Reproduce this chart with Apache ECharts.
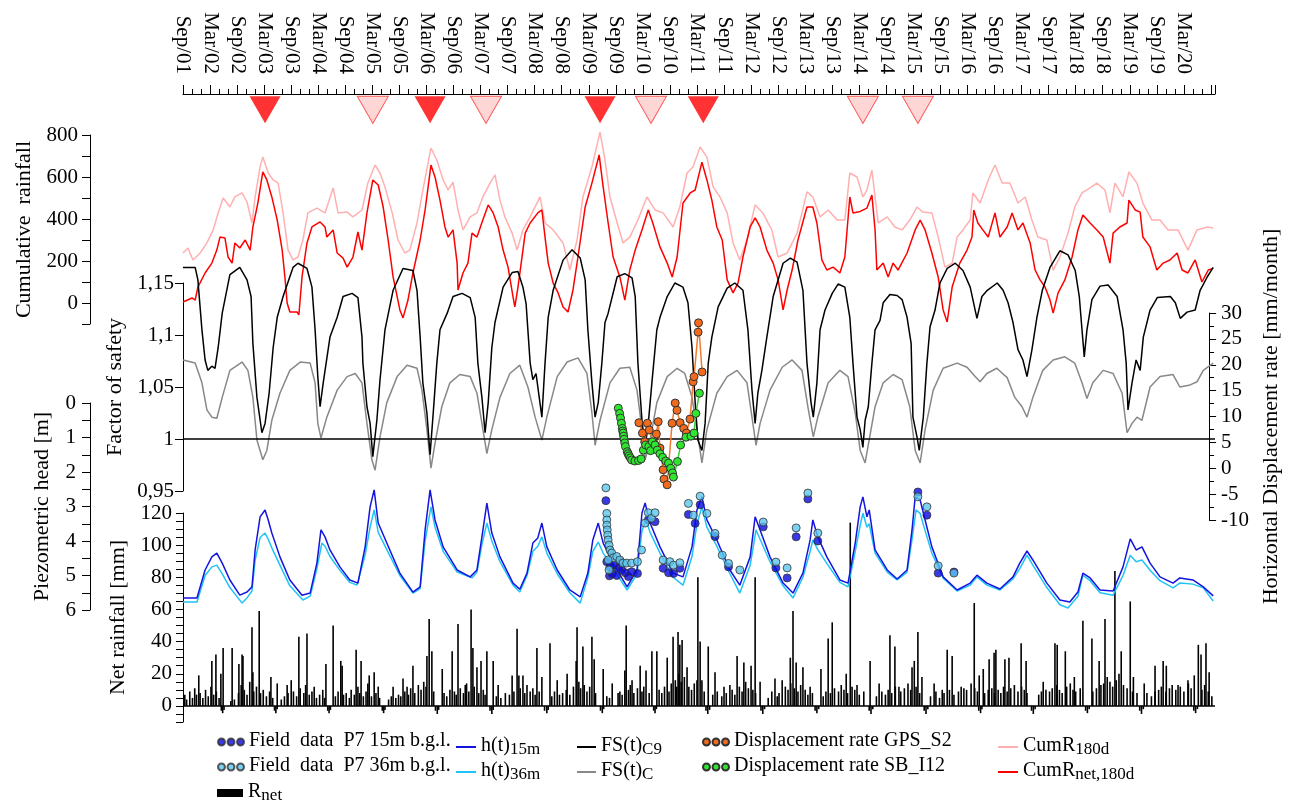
<!DOCTYPE html>
<html>
<head>
<meta charset="utf-8">
<title>Rainfall, piezometric head, factor of safety</title>
<script src="https://cdn.jsdelivr.net/npm/echarts@6.0.0/dist/echarts.min.js"></script>
<style>
  html, body { margin: 0; padding: 0; background: #fff; }
  #chart { width: 1290px; height: 800px; }
</style>
</head>
<body>
<div id="chart"></div>
<script>
// x values are months counted from Sep 2001
const timeLabels = ['Sep/01','Mar/02','Sep/02','Mar/03','Sep/03','Mar/04','Sep/04','Mar/05','Sep/05','Mar/06',
  'Sep/06','Mar/07','Sep/07','Mar/08','Sep/08','Mar/09','Sep/09','Mar/10','Sep/10','Mar/11','Sep/11','Mar/12',
  'Sep/12','Mar/13','Sep/13','Mar/14','Sep/14','Mar/15','Sep/15','Mar/16','Sep/16','Mar/17','Sep/17','Mar/18',
  'Sep/18','Mar/19','Sep/19','Mar/20'];

// landslide events (filled = major, pale = minor)
const eventsMajor = [18.2, 54.8, 92.5, 115.4];
const eventsMinor = [42.1, 67.2, 103.8, 150.8, 163.0];

// cumulative rainfall, 180 days [mm]
const cumR180 = [[0,238],[1.1,262],[2.2,205],[3.8,238],[5.3,286],[6.7,348],[7.8,429],[8.9,500],[10.4,457],[11.5,505],
  [13.1,524],[14.2,481],[15.3,381],[16.0,505],[17.1,648],[17.7,695],[18.9,619],[20.0,586],[21.1,571],[22.2,429],
  [23.3,252],[24.4,205],[25.5,219],[26.6,300],[27.7,429],[29.7,452],[31.5,429],[33.3,548],[34.4,429],[36.4,433],
  [37.7,410],[39.7,443],[41.0,571],[42.6,657],[43.7,619],[44.8,552],[46.4,429],[47.7,300],[49.2,238],[50.3,252],
  [51.9,381],[53.2,538],[55.0,738],[56.3,681],[57.7,586],[58.8,538],[59.9,576],[61.0,443],[62.1,348],[63.7,410],
  [65.2,429],[66.5,505],[68.1,571],[69.2,610],[70.3,490],[71.4,410],[73.0,333],[74.1,252],[75.4,348],[77.0,410],
  [79.2,505],[80.3,381],[82.1,348],[84.3,286],[85.8,157],[87.4,300],[88.7,505],[90.7,648],[92.5,814],[93.6,681],
  [94.7,505],[96.3,381],[97.6,286],[99.1,314],[100.9,395],[102.9,505],[104.7,443],[106.5,429],[108.7,362],[110.2,457],
  [111.8,619],[113.1,648],[114.7,743],[116.2,695],[117.6,552],[119.1,505],[120.7,429],[122.0,286],[123.5,205],[125.1,300],
  [126.9,467],[128.6,429],[130.6,348],[132.0,219],[134.0,238],[136.2,333],[138.4,529],[139.7,505],[141.3,410],[143.1,443],
  [145.1,395],[146.8,395],[147.9,619],[149.5,600],[150.8,505],[151.7,538],[152.8,633],[153.5,505],[154.2,381],[156.2,410],
  [157.9,362],[159.5,348],[161.2,395],[162.8,457],[164.1,433],[166.1,429],[167.5,314],[169.0,171],[170.6,190],[171.7,314],
  [173.0,348],[174.6,395],[175.2,524],[176.8,476],[178.6,586],[180.1,657],[181.7,571],[183.4,571],[185.2,476],[186.8,505],
  [188.3,395],[189.6,314],[191.6,300],[193.0,157],[194.5,219],[196.3,333],[197.8,457],[199.4,524],[201.2,548],[202.7,571],
  [204.5,538],[205.6,429],[206.7,571],[208.5,505],[209.8,624],[211.6,571],[212.9,476],[214.9,395],[216.7,395],[218.5,348],
  [220.7,348],[222.9,252],[224.9,348],[227.2,362],[228.5,357]];

// cumulative net rainfall, 180 days [mm]
const cumRnet180 = [[0,5],[2.0,24],[2.7,14],[3.3,76],[4.9,143],[6.4,190],[7.5,252],[8.2,314],[9.3,310],[10.0,219],
  [10.9,190],[11.5,286],[12.6,262],[13.8,300],[14.9,252],[15.5,362],[16.6,476],[17.7,624],[18.6,586],[19.7,505],
  [20.9,395],[22.0,252],[22.6,124],[23.1,0],[23.7,-43],[25.3,-43],[25.7,-57],[26.4,124],[27.5,286],[28.6,362],
  [30.4,386],[31.5,362],[31.9,314],[33.3,348],[34.2,238],[35.5,214],[36.4,171],[37.7,219],[38.8,338],[39.7,252],
  [40.8,429],[42.1,586],[43.3,562],[44.4,457],[45.5,300],[46.6,124],[48.1,-33],[48.8,-71],[49.9,14],[51.0,143],
  [52.6,300],[53.7,443],[55.0,657],[55.9,600],[57.0,490],[58.1,362],[58.8,314],[59.9,348],[60.8,190],[61.0,62],
  [62.1,143],[63.2,190],[64.1,333],[65.2,314],[66.5,395],[67.7,467],[68.8,429],[69.9,362],[71.0,252],[72.1,171],
  [73.2,29],[73.6,-19],[74.3,76],[75.4,252],[75.9,333],[77.0,381],[78.7,429],[79.6,443],[80.3,314],[81.0,190],
  [82.1,95],[83.2,48],[84.3,-19],[85.4,-43],[86.5,62],[87.6,219],[89.2,457],[90.7,571],[92.3,705],[93.2,552],
  [94.3,381],[95.4,219],[96.9,124],[98.0,14],[99.1,157],[100.3,252],[101.8,348],[103.2,443],[104.2,381],[105.8,267],
  [107.4,190],[108.5,124],[109.6,219],[110.9,476],[112.5,524],[113.6,538],[115.1,671],[116.2,586],[117.3,490],[118.4,362],
  [119.6,300],[120.7,110],[122.0,48],[123.1,95],[124.2,219],[125.8,362],[126.9,405],[128.0,362],[129.5,252],[130.9,190],
  [132.0,110],[133.1,-33],[134.0,62],[135.1,157],[136.4,300],[138.4,457],[139.7,457],[140.6,381],[141.7,205],[142.8,157],
  [144.2,171],[145.7,143],[146.8,219],[147.9,505],[148.6,429],[150.2,436],[151.7,452],[152.8,514],[153.5,348],[153.9,157],
  [155.3,190],[156.4,124],[157.5,190],[158.6,157],[160.6,238],[162.4,348],[163.5,395],[164.6,348],[166.1,238],[167.5,124],
  [168.6,-33],[169.5,-90],[170.6,76],[172.3,190],[173.9,252],[175.0,314],[175.4,443],[176.3,381],[177.4,348],[178.6,314],
  [180.1,429],[181.2,314],[182.8,362],[183.9,429],[185.2,348],[186.3,381],[187.9,286],[189.0,157],[190.1,110],[191.2,76],
  [192.3,14],[193.0,-48],[194.1,48],[195.6,110],[197.2,219],[198.5,348],[199.6,419],[201.2,381],[202.7,348],[204.1,314],
  [205.6,190],[206.3,333],[207.8,362],[209.4,381],[209.8,490],[211.2,443],[212.3,433],[212.9,314],[214.5,267],[216.0,157],
  [217.4,190],[218.9,205],[220.5,238],[221.6,157],[222.9,143],[224.5,205],[226.0,100],[227.4,157],[228.5,165]];

// factor of safety, FS(t)C9
const fsC9 = [[0,1.165],[2.7,1.165],[3.3,1.153],[4.2,1.105],[4.9,1.076],[5.5,1.066],[6.4,1.070],[7.1,1.068],[7.8,1.088],
  [8.7,1.121],[10.4,1.158],[12.6,1.165],[14.2,1.153],[15.1,1.137],[15.5,1.092],[16.4,1.040],[17.5,1.006],[18.2,1.015],
  [19.1,1.044],[20.0,1.088],[20.9,1.117],[22.2,1.137],[24.4,1.165],[25.5,1.169],[27.5,1.164],[28.6,1.146],[29.3,1.105],
  [29.9,1.060],[30.4,1.031],[31.1,1.054],[32.6,1.098],[34.2,1.117],[35.5,1.137],[37.5,1.140],[38.8,1.136],[39.7,1.098],
  [39.9,1.073],[40.8,1.031],[41.5,1.015],[42.1,0.983],[43.0,1.018],[43.7,1.057],[44.8,1.105],[46.6,1.143],[48.8,1.164],
  [51.0,1.162],[51.9,1.143],[52.6,1.098],[53.2,1.054],[54.1,1.025],[54.8,0.985],[55.5,1.025],[56.3,1.073],[57.0,1.105],
  [58.6,1.121],[59.9,1.137],[61.9,1.140],[63.7,1.136],[64.8,1.117],[65.4,1.073],[66.3,1.040],[67.0,1.006],[67.7,1.035],
  [68.5,1.088],[69.2,1.112],[71.0,1.146],[73.0,1.160],[74.3,1.161],[75.4,1.146],[76.1,1.130],[77.0,1.073],[77.6,1.057],
  [78.3,1.063],[79.6,1.021],[80.3,1.073],[81.0,1.117],[82.1,1.143],[84.3,1.172],[86.3,1.182],[88.1,1.174],[89.2,1.153],
  [89.8,1.105],[90.7,1.054],[91.4,1.021],[92.1,1.035],[92.9,1.073],[93.6,1.112],[94.3,1.121],[96.3,1.156],[98.0,1.159],
  [99.6,1.155],[100.3,1.137],[100.9,1.073],[101.8,1.018],[102.5,0.992],[103.2,1.015],[104.0,1.054],[105.1,1.105],
  [105.8,1.117],[107.4,1.137],[109.1,1.150],[110.9,1.146],[112.0,1.131],[112.9,1.088],[113.6,1.035],[114.2,0.999],
  [115.1,0.989],[115.8,1.015],[116.5,1.073],[117.3,1.098],[118.7,1.127],[120.7,1.145],[122.4,1.150],[124.2,1.143],
  [125.3,1.105],[126.2,1.047],[126.9,1.015],[127.5,1.044],[128.4,1.066],[129.5,1.098],[130.9,1.137],[133.1,1.169],
  [134.7,1.174],[136.2,1.170],[137.5,1.143],[138.4,1.073],[139.3,1.035],[139.8,1.021],[140.6,1.054],[141.3,1.105],
  [142.4,1.124],[144.0,1.140],[145.3,1.149],[146.8,1.146],[147.9,1.117],[148.6,1.073],[149.5,1.021],[150.2,1.009],
  [150.8,0.992],[151.3,1.018],[152.0,1.031],[152.8,1.073],[153.5,1.105],[154.6,1.114],[155.3,1.131],[156.8,1.139],
  [158.4,1.138],[159.5,1.134],[160.6,1.117],[161.5,1.092],[161.9,1.021],[162.8,1.002],[163.3,0.989],[164.2,1.021],
  [165.0,1.073],[165.7,1.108],[166.8,1.124],[167.9,1.150],[169.5,1.164],[171.3,1.169],[173.0,1.162],[174.6,1.146],
  [176.1,1.116],[177.2,1.137],[178.4,1.143],[180.6,1.150],[181.9,1.143],[183.0,1.131],[184.1,1.112],[185.2,1.086],
  [186.3,1.076],[187.2,1.060],[188.3,1.086],[189.4,1.117],[190.6,1.143],[192.3,1.165],[194.5,1.181],[196.3,1.177],
  [197.9,1.162],[198.8,1.137],[199.4,1.105],[199.9,1.079],[200.5,1.105],[201.6,1.134],[203.4,1.147],[205.2,1.148],
  [207.2,1.137],[208.5,1.105],[209.2,1.073],[209.6,1.028],[210.5,1.054],[211.4,1.076],[212.3,1.066],[213.0,1.098],
  [214.5,1.124],[216.1,1.136],[219.0,1.137],[220.1,1.131],[221.2,1.116],[222.7,1.122],[224.5,1.124],[225.6,1.143],
  [227.2,1.156],[228.5,1.165]];

// factor of safety, FS(t)C
const fsC = [[0,1.076],[2.7,1.073],[4.2,1.054],[5.3,1.028],[6.4,1.021],[7.5,1.020],[8.7,1.040],[10.4,1.066],[13.1,1.074],
  [14.4,1.066],[15.5,1.040],[16.4,0.999],[17.7,0.980],[18.6,0.989],[19.7,1.018],[21.5,1.044],[23.7,1.066],[26.0,1.074],
  [28.2,1.073],[29.3,1.054],[29.9,1.015],[30.6,1.001],[31.9,1.021],[34.2,1.047],[36.4,1.060],[38.2,1.063],[39.7,1.054],
  [40.8,1.015],[41.9,0.980],[42.6,0.970],[43.7,1.002],[45.2,1.035],[47.5,1.060],[49.7,1.071],[51.9,1.068],[53.0,1.047],
  [54.1,1.009],[55.0,0.972],[55.9,0.996],[57.4,1.031],[59.2,1.054],[61.4,1.062],[63.7,1.060],[65.2,1.044],[66.3,1.015],
  [67.4,0.986],[68.5,1.009],[70.3,1.040],[72.5,1.063],[74.7,1.071],[76.5,1.050],[78.1,1.021],[79.6,0.999],[80.7,1.021],
  [83.0,1.060],[85.2,1.074],[87.6,1.078],[89.6,1.063],[90.7,1.025],[91.4,0.994],[92.5,1.018],[94.7,1.054],[96.9,1.068],
  [99.1,1.069],[100.7,1.047],[101.8,1.009],[102.5,0.980],[103.6,0.999],[105.1,1.035],[107.4,1.060],[109.6,1.068],
  [111.3,1.063],[112.9,1.040],[114.0,1.009],[115.1,0.977],[116.2,1.009],[118.4,1.044],[120.7,1.060],[122.9,1.066],
  [125.1,1.054],[126.2,1.021],[127.1,0.994],[128.0,1.015],[130.2,1.047],[132.9,1.069],[135.1,1.076],[137.3,1.066],
  [138.6,1.031],[139.8,1.002],[140.8,1.021],[143.1,1.054],[145.7,1.066],[147.5,1.060],[149.1,1.025],[150.2,0.989],
  [151.3,0.977],[151.9,0.992],[153.5,1.031],[155.3,1.054],[157.5,1.062],[159.5,1.057],[161.2,1.031],[162.4,0.989],
  [163.5,0.977],[164.6,1.009],[166.4,1.047],[168.6,1.068],[171.7,1.073],[173.9,1.069],[175.7,1.060],[176.8,1.055],
  [178.3,1.063],[180.5,1.068],[182.8,1.059],[184.5,1.040],[186.1,1.031],[187.2,1.021],[188.5,1.040],[190.7,1.066],
  [193.0,1.076],[195.6,1.079],[197.8,1.073],[199.4,1.054],[200.5,1.039],[201.8,1.054],[204.1,1.066],[206.3,1.063],
  [208.3,1.044],[209.4,1.006],[210.5,1.015],[211.6,1.021],[212.7,1.018],[214.5,1.050],[216.7,1.060],[219.6,1.062],
  [221.1,1.050],[223.4,1.052],[224.9,1.055],[226.3,1.066],[228.5,1.073]];

// modelled piezometric head [m b.g.l.]
const h15 = [[0,5.65],[3.1,5.65],[4.9,4.84],[6.4,4.46],[7.5,4.35],[8.7,4.64],[10.4,5.13],[12.6,5.57],[14.2,5.48],
  [15.3,5.33],[16.0,4.26],[17.1,3.30],[18.2,3.10],[18.9,3.39],[19.7,3.77],[21.5,4.46],[23.7,5.13],[26.4,5.57],
  [28.2,5.51],[29.7,4.64],[30.6,3.68],[31.5,3.88],[32.6,4.26],[34.8,4.75],[37.0,5.13],[38.8,5.22],[40.4,4.17],
  [41.5,3.01],[42.4,2.52],[43.3,3.48],[45.2,4.06],[48.1,4.93],[51.0,5.48],[52.6,5.33],[53.7,3.68],[54.8,2.52],
  [55.9,3.39],[57.7,4.17],[60.8,4.84],[63.7,5.04],[65.2,4.84],[66.3,3.88],[67.4,2.90],[68.5,3.77],[70.3,4.46],
  [73.2,5.22],[74.7,5.40],[76.3,4.93],[77.6,4.06],[78.7,3.91],[79.6,3.48],[80.7,4.17],[83.0,4.84],[85.8,5.42],
  [88.1,5.62],[89.8,4.93],[90.9,3.97],[92.1,3.48],[93.2,4.06],[95.4,4.64],[98.5,5.33],[100.7,4.84],[101.8,3.19],
  [102.5,2.90],[103.6,3.48],[105.8,4.17],[108.7,4.93],[110.9,5.04],[112.9,4.17],[114.0,3.10],[115.1,2.72],[116.2,3.39],
  [118.4,3.97],[121.3,4.84],[123.5,5.28],[125.8,4.46],[126.9,3.30],[128.0,3.68],[130.2,4.46],[133.1,5.22],[135.3,5.51],
  [137.5,4.93],[139.1,3.97],[139.7,3.39],[140.8,3.88],[142.8,4.46],[145.7,5.13],[147.5,5.22],[149.1,4.06],[150.2,3.01],
  [150.8,2.72],[151.7,3.30],[152.2,3.10],[153.5,4.26],[156.2,4.84],[158.4,5.10],[160.6,4.84],[161.7,3.68],[162.4,2.72],
  [163.5,2.81],[164.6,3.39],[166.1,4.17],[168.6,5.04],[171.7,5.42],[174.6,5.22],[176.1,4.99],[178.3,5.22],[181.2,5.39],
  [184.1,5.04],[185.6,4.64],[187.2,4.29],[188.5,4.55],[191.6,5.22],[194.5,5.71],[196.7,5.77],[198.5,5.48],[199.6,4.93],
  [201.2,5.07],[203.4,5.42],[206.3,5.45],[208.5,4.75],[210.1,3.94],[211.4,4.26],[212.7,4.17],[214.5,4.64],[216.7,5.04],
  [219.6,5.22],[221.1,5.07],[224.0,5.13],[226.3,5.33],[228.5,5.59]];

const h36 = [[0,5.77],[3.1,5.77],[4.9,5.00],[6.4,4.75],[7.5,4.70],[8.7,4.95],[10.4,5.35],[13.1,5.80],[14.2,5.65],
  [15.3,5.45],[16.0,4.55],[17.1,3.90],[18.2,3.77],[18.9,3.95],[19.7,4.20],[21.5,4.70],[23.7,5.30],[26.6,5.71],
  [28.2,5.60],[29.7,4.80],[30.8,4.06],[31.5,4.15],[32.6,4.45],[34.8,4.85],[37.0,5.20],[38.6,5.28],[40.4,4.40],
  [41.5,3.60],[42.4,3.10],[43.3,3.75],[45.2,4.25],[48.1,5.00],[51.0,5.51],[52.6,5.38],[53.7,4.00],[55.0,3.01],
  [55.9,3.60],[57.7,4.30],[60.8,4.90],[64.1,5.07],[65.2,4.90],[66.3,4.10],[67.4,3.48],[68.5,4.00],[70.3,4.60],
  [73.2,5.28],[74.7,5.48],[76.3,5.00],[77.6,4.30],[78.7,4.15],[79.6,3.88],[80.7,4.35],[83.0,4.95],[85.8,5.50],
  [88.1,5.80],[89.8,5.05],[90.9,4.30],[92.1,4.03],[93.2,4.35],[95.4,4.80],[98.5,5.42],[100.7,4.95],[101.8,3.70],
  [102.7,3.39],[103.6,3.75],[105.8,4.35],[108.7,5.05],[110.9,5.28],[112.9,4.45],[114.0,3.50],[115.1,3.01],[116.2,3.60],
  [118.4,4.15],[121.3,4.95],[123.5,5.51],[125.8,4.70],[127.1,3.68],[128.0,3.95],[130.2,4.60],[133.1,5.30],[135.3,5.65],
  [137.5,5.05],[139.1,4.30],[139.7,3.97],[140.8,4.25],[142.8,4.65],[145.7,5.20],[147.5,5.33],[149.1,4.30],[150.2,3.55],
  [150.8,3.19],[151.7,3.60],[152.2,3.50],[153.5,4.35],[156.2,4.90],[158.4,5.13],[160.6,4.90],[161.7,3.95],[162.6,3.10],
  [163.5,3.20],[164.6,3.70],[166.1,4.35],[168.6,5.08],[171.7,5.45],[174.6,5.28],[176.1,5.04],[178.3,5.28],[181.2,5.42],
  [184.1,5.10],[185.6,4.80],[187.2,4.41],[188.5,4.70],[191.6,5.35],[194.5,5.85],[196.3,5.94],[198.5,5.60],[199.6,4.99],
  [201.2,5.15],[203.4,5.50],[206.3,5.57],[208.5,5.00],[210.1,4.41],[211.4,4.60],[212.7,4.55],[214.5,4.85],[216.7,5.15],
  [219.6,5.36],[221.1,5.22],[224.0,5.25],[226.3,5.36],[228.5,5.74]];

// piezometer P7 readings [m b.g.l.]
const field15 = [[93.8,2.83],[94.0,4.60],[94.6,5.01],[94.7,4.75],[95.2,4.95],[95.5,4.70],[96.2,5.00],[96.6,4.79],
  [97.0,4.60],[97.3,4.84],[98.1,4.92],[98.8,5.03],[99.5,4.89],[100.8,4.94],[103.2,3.39],[104.7,3.44],[106.5,4.79],
  [107.7,4.92],[108.8,4.94],[110.2,4.79],[112.1,3.23],[113.6,3.49],[114.7,2.95],[118.0,3.87],[121.0,4.75],[128.7,3.59],
  [131.5,4.78],[134.0,5.07],[136.0,3.88],[138.6,2.78],[140.8,4.00],[163.0,2.58],[165.0,3.25],[167.5,4.93],[171.0,4.90]];
const field36 = [[93.8,2.46],[94.0,3.20],[94.0,3.39],[94.0,3.54],[94.1,3.68],[94.2,3.83],[94.3,3.97],[94.5,4.12],
  [94.7,4.26],[95.1,4.35],[95.4,4.49],[96.2,4.45],[96.9,4.55],[94.3,4.55],[94.5,4.84],[97.6,4.64],[98.4,4.64],
  [99.5,4.64],[100.8,4.60],[101.7,4.26],[102.5,3.48],[103.2,3.18],[103.9,3.34],[104.7,3.18],[106.5,4.55],[108.0,4.60],
  [108.8,4.70],[110.2,4.63],[112.1,2.91],[113.2,3.25],[114.7,2.70],[116.2,3.20],[118.0,3.78],[119.6,4.41],[121.0,4.65],
  [123.5,4.84],[128.7,3.45],[131.5,4.61],[134.0,4.78],[136.0,3.62],[138.6,2.61],[140.8,3.77],[163.0,2.72],[165.0,3.01],
  [167.5,4.72],[171.0,4.93]];

// horizontal displacement rate [mm/month]
const dispGPS = [[101.7,8.8],[102.5,6.8],[103.0,5.1],[103.6,8.7],[104.0,7.4],[105.1,4.8],[105.6,6.6],[106.0,9.0],
  [106.4,3.9],[107.1,-0.3],[107.3,-2.1],[108.0,-3.2],[109.1,8.7],[109.8,12.6],[110.2,11.2],[110.9,8.8],[111.7,7.7],
  [112.3,6.8],[113.1,9.5],[113.8,16.7],[114.0,17.7],[114.9,26.3],[115.0,28.1],[115.8,18.6]];
const dispSB = [[97.1,11.6],[97.4,10.6],[97.6,9.7],[97.8,8.7],[98.0,7.7],[98.1,7.2],[98.2,6.8],[98.3,6.2],[98.4,5.6],
  [98.55,4.9],[98.7,4.2],[99.1,3.2],[99.3,2.8],[99.5,2.4],[99.8,2.0],[100.1,1.6],[100.8,1.4],[101.6,1.5],[102.2,1.8],
  [102.7,3.5],[103.2,4.5],[103.9,4.2],[104.3,3.4],[104.7,5.1],[105.3,4.5],[105.8,3.5],[106.4,2.8],[107.0,2.1],
  [107.7,1.4],[108.3,1.0],[108.8,0.0],[109.2,-0.9],[109.4,-1.7],[110.3,1.3],[111.0,4.5],[112.2,6.0],[113.3,6.2],
  [114.0,6.8],[114.4,10.6],[115.2,14.5]];

// net daily rainfall [mm]: the large events
const rnetPeaks = [[0.4,7],[3.5,19],[6.4,28],[7.3,32],[8.4,20],[8.9,36],[10.9,36],[12.4,26],[13.1,32],[13.3,31],
  [15.3,49],[15.5,21],[16.9,59],[19.5,18],[20.9,14],[23.1,13],[24.0,16],[25.7,43],[27.5,45],[29.1,12],[31.7,26],
  [33.3,50],[35.0,28],[35.3,25],[38.4,35],[39.5,28],[41.3,19],[42.4,21],[43.3,12],[46.6,12],[48.8,17],[49.7,12],
  [51.0,25],[54.1,31],[54.6,54],[55.2,34],[57.5,23],[59.7,34],[61.0,51],[62.6,13],[63.9,60],[64.3,36],[65.2,24],
  [66.1,28],[67.4,34],[68.8,28],[69.9,13],[73.0,19],[74.1,48],[74.5,19],[75.4,19],[78.5,36],[79.6,18],[81.4,39],
  [83.0,16],[85.2,20],[87.2,28],[87.4,49],[88.7,37],[90.7,43],[91.2,29],[93.2,23],[95.2,14],[98.0,22],[98.3,50],
  [99.6,16],[101.4,25],[102.7,22],[104.0,34],[105.1,34],[107.4,30],[108.7,43],[109.8,46],[110.2,38],[110.7,41],
  [111.8,24],[114.2,80],[114.7,40],[115.1,16],[116.5,37],[118.0,21],[120.0,12],[121.3,13],[122.9,31],[124.4,27],
  [126.0,25],[126.9,80],[128.0,15],[131.3,17],[132.9,16],[134.7,30],[135.3,59],[136.0,27],[137.5,24],[139.1,12],
  [141.5,23],[143.1,42],[144.0,52],[147.1,20],[148.0,114],[149.5,13],[152.4,28],[154.4,14],[156.8,44],[157.9,37],
  [158.8,12],[161.7,24],[162.2,28],[163.0,46],[163.9,18],[166.6,14],[168.4,10],[169.5,35],[170.6,31],[173.2,11],
  [175.5,64],[176.6,19],[177.5,23],[178.8,29],[179.9,33],[180.3,35],[182.3,29],[183.2,30],[185.9,39],[187.0,28],
  [190.8,15],[193.4,39],[193.9,38],[195.7,34],[197.7,18],[199.6,53],[201.6,42],[203.2,28],[204.5,54],[206.7,84],
  [208.1,34],[210.1,65],[210.8,18],[213.2,14],[215.6,25],[217.4,28],[218.1,25],[220.7,13],[222.9,16],[224.3,19],
  [225.2,38],[225.8,32],[226.9,39],[227.6,21]];

// net daily rainfall [mm]: small daily values and dry-season losses
const rnetSmall = [[0.2,6],[0.8,4],[1.5,9],[2.1,5],[2.6,11],[3.0,7],[3.8,8],[4.4,5],[5.0,10],[5.6,6],[6.2,12],[6.8,7],
  [7.4,9],[8.0,5],[8.5,-3],[8.8,-4.5],[9.1,-2.5],[10.6,3],[11.4,4],
  [12.3,8],[12.9,13],[13.6,10],[14.2,7],[14.8,15],[15.7,9],[16.3,12],[17.2,8],[17.8,10],[18.5,6],[19.2,9],[19.9,5],
  [20.3,-3],[20.6,-4.5],[20.9,-2],[21.8,4],[22.5,6],[23.3,8],
  [24.5,9],[25.2,6],[26.0,11],[26.8,8],[27.2,13],[28.0,7],[28.6,9],[29.6,5],[30.3,7],[31.0,10],[31.4,5],[32.1,-3],
  [32.4,-4.5],[32.7,-2.5],[33.8,6],[34.4,9],[35.6,7],
  [36.2,8],[36.9,5],[37.3,10],[38.0,7],[38.8,12],[39.2,8],[40.0,6],[40.6,9],[41.0,14],[41.8,6],[42.8,8],[43.6,5],
  [44.2,-3],[44.5,-4.5],[44.8,-2.5],[45.6,4],[46.2,6],[47.2,5],[47.8,7],
  [48.3,6],[49.2,9],[50.0,7],[50.5,11],[51.4,8],[52.2,13],[52.8,10],[53.4,15],[53.9,12],[55.6,9],[56.0,-3],[56.4,-5],
  [56.7,-2.5],[57.9,8],[58.5,6],[59.2,10],
  [60.2,9],[60.6,7],[61.5,11],[62.2,8],[62.9,14],[63.4,9],[64.6,12],[65.6,8],[66.6,10],[67.0,7],[68.1,-3],[68.5,-5],
  [68.8,-2.5],[69.5,6],[70.5,5],[71.5,8],
  [72.4,7],[73.4,9],[74.8,11],[75.8,8],[76.3,13],[77.0,9],[77.6,11],[78.1,7],[79.0,9],[80.2,-3],[80.7,-4.5],[81.0,-2.5],
  [81.8,6],[82.4,9],[83.5,7],
  [84.2,8],[85.0,10],[85.8,7],[86.6,12],[87.8,15],[88.2,11],[89.0,13],[89.6,9],[90.2,12],[91.5,8],[92.6,-3],[93.0,-4.5],
  [93.3,-2],[94.0,6],[94.6,5],[96.5,8],
  [96.9,9],[97.4,7],[98.8,10],[99.2,13],[100.0,8],[100.8,11],[101.8,9],[102.2,12],[103.4,8],[104.4,-3],[104.7,-4.5],
  [105.0,-2],[105.6,10],[106.2,8],[106.8,12],[107.8,9],
  [108.3,14],[109.2,16],[109.5,12],[110.0,20],[110.5,15],[111.2,18],[112.2,12],[112.8,10],[113.4,14],[114.0,16],
  [115.6,9],[116.0,-3],[116.4,-5],[116.8,-2.5],[117.5,7],[118.5,9],[119.5,6],
  [120.5,8],[121.8,10],[122.4,7],[123.4,12],[124.0,9],[124.8,15],[125.4,11],[126.4,10],[127.0,8],[128.2,-3],[128.6,-5],
  [129.0,-2],[129.8,5],[130.6,9],[131.8,6],
  [132.2,8],[133.6,12],[134.2,10],[134.8,14],[135.6,11],[136.4,9],[137.0,13],[138.0,10],[138.6,7],[139.6,8],[140.2,-3],
  [140.6,-4.5],[141.0,-2],[142.0,6],[142.6,9],[143.6,8],
  [144.5,11],[145.4,9],[146.0,13],[146.6,10],[147.4,8],[148.4,12],[149.0,10],[150.0,7],[151.0,9],[152.2,-3],[152.6,-5],
  [153.0,-2],[153.8,6],[155.0,9],[155.8,7],
  [156.4,10],[157.2,8],[158.0,12],[159.2,9],[160.0,11],[160.8,14],[161.4,10],[162.6,12],[163.4,8],[164.4,-3],[164.8,-5],
  [165.2,-2],[165.8,6],[167.0,9],[167.8,5],
  [168.8,8],[170.0,10],[171.0,7],[172.0,9],[172.6,12],[173.8,10],[174.8,14],[175.6,11],[176.2,9],[176.5,-3],[176.9,-4.5],
  [177.2,-2],[177.8,8],[178.6,10],[179.4,11],[180.0,8],
  [180.8,10],[181.4,8],[182.0,12],[182.8,9],[183.6,11],[184.4,13],[185.2,9],[186.0,12],[186.6,10],[187.2,8],[188.2,-3],
  [188.6,-5],[189.0,-2],[189.8,7],[190.4,9],[191.4,10],
  [192.2,9],[192.8,11],[193.8,13],[194.4,10],[195.0,8],[196.0,12],[196.8,14],[197.4,10],[198.0,9],[199.0,11],[200.2,-3],
  [200.6,-4.5],[201.0,-2],[201.8,9],[202.6,11],[203.6,13],
  [204.2,14],[205.0,18],[205.6,15],[206.2,12],[207.0,16],[207.6,20],[208.6,13],[209.4,11],[210.6,9],[211.6,8],[212.2,-3],
  [212.6,-5],[213.0,-2],[213.8,8],[214.8,6],[215.6,9],
  [216.4,10],[217.0,12],[218.0,9],[218.8,11],[219.4,13],[220.2,10],[221.2,12],[222.0,9],[223.0,14],[223.6,11],[224.2,-3],
  [224.6,-4.5],[225.0,-2],[226.0,10],[226.6,13],[227.4,9],[228.2,6]];

const FONT = 'Liberation Serif';
const X_MAX = 228.9;
const GRID_L = 183, GRID_R = 75;

const chart = echarts.init(document.getElementById('chart'), null, { renderer: 'canvas' });

const grids = [
  { left: GRID_L, right: GRID_R, top: 94, height: 36 },   // time axis + events
  { left: GRID_L, right: GRID_R, top: 135, height: 189 }, // cumulative rainfall
  { left: GRID_L, right: GRID_R, top: 283, height: 208 }, // factor of safety
  { left: GRID_L, right: GRID_R, top: 313, height: 207 }, // displacement rate
  { left: GRID_L, right: GRID_R, top: 403, height: 207 }, // piezometric head
  { left: GRID_L, right: GRID_R, top: 513, height: 209 }  // net rainfall
];

const hiddenX = (i) => ({ type: 'value', gridIndex: i, min: 0, max: X_MAX, show: false });

const xAxes = [{
  type: 'value', gridIndex: 0, position: 'top', min: 0, max: X_MAX, interval: 6,
  axisLine: { show: true, onZero: false, lineStyle: { color: '#000', width: 1 } },
  axisTick: { show: true, length: 9, lineStyle: { color: '#000' } },
  minorTick: { show: true, splitNumber: 3, length: 5, lineStyle: { color: '#000' } },
  splitLine: { show: false },
  axisLabel: {
    rotate: 90, margin: 20, fontSize: 21, color: '#000', fontFamily: FONT,
    formatter: v => timeLabels[Math.round(v / 6)] || ''
  }
}, hiddenX(1), hiddenX(2), hiddenX(3), hiddenX(4), hiddenX(5)];

const axisTxt = { color: '#000', fontFamily: FONT, fontSize: 21 };
const nameTxt = { color: '#000', fontFamily: FONT, fontSize: 22 };
const blackLine = () => ({ show: true, onZero: false, lineStyle: { color: '#000', width: 1 } });
const ticks = (len) => ({ show: true, length: len, lineStyle: { color: '#000', width: 1 } });

const fmtComma = v => String(Math.round(v * 100) / 100).replace('.', ',');

const yAxes = [
  { type: 'value', gridIndex: 0, min: 0, max: 1, show: false },
  {
    type: 'value', gridIndex: 1, position: 'left', offset: 93, min: -100, max: 800, interval: 100,
    name: 'Cumulative  rainfall', nameLocation: 'middle', nameGap: 52, nameTextStyle: nameTxt,
    axisLine: blackLine(), axisTick: ticks(8), splitLine: { show: false },
    axisLabel: Object.assign({ margin: 12, formatter: v => (v >= 0 && v % 200 === 0) ? String(v) : '' }, axisTxt)
  },
  {
    type: 'value', gridIndex: 2, position: 'left', min: 0.95, max: 1.15, interval: 0.05,
    name: 'Factor of safety', nameLocation: 'middle', nameGap: 50, nameTextStyle: nameTxt,
    axisLine: blackLine(), axisTick: ticks(8), splitLine: { show: false },
    axisLabel: Object.assign({ margin: 9, formatter: fmtComma }, axisTxt)
  },
  {
    type: 'value', gridIndex: 3, position: 'right', min: -10, max: 30, interval: 5,
    name: 'Horizontal Displacement rate [mm/month]', nameLocation: 'middle', nameGap: 44, nameTextStyle: nameTxt,
    axisLine: blackLine(), axisTick: ticks(7),
    minorTick: { show: true, splitNumber: 2, length: 5, lineStyle: { color: '#000' } },
    splitLine: { show: false },
    axisLabel: Object.assign({ margin: 12 }, axisTxt)
  },
  {
    type: 'value', gridIndex: 4, position: 'left', offset: 93, min: 0, max: 6, interval: 1, inverse: true,
    name: 'Piezometric head [m]', nameLocation: 'middle', nameGap: 37, nameTextStyle: nameTxt,
    axisLine: blackLine(), axisTick: ticks(8),
    minorTick: { show: true, splitNumber: 2, length: 8, lineStyle: { color: '#000' } },
    splitLine: { show: false },
    axisLabel: Object.assign({ margin: 14 }, axisTxt)
  },
  {
    type: 'value', gridIndex: 5, position: 'left', min: -10, max: 120, interval: 10,
    name: 'Net rainfall [mm]', nameLocation: 'middle', nameGap: 52, nameTextStyle: nameTxt,
    axisLine: blackLine(), axisTick: ticks(7),
    minorTick: { show: true, splitNumber: 2, length: 7, lineStyle: { color: '#000' } },
    splitLine: { show: false },
    axisLabel: Object.assign({ margin: 11, formatter: v => (v >= 0 && v % 20 === 0) ? String(v) : '' }, axisTxt)
  }
];

function lineSeries(name, grid, data, color, width) {
  return {
    name, type: 'line', xAxisIndex: grid, yAxisIndex: grid, data,
    showSymbol: false, symbol: 'none', clip: false,
    lineStyle: { color, width }, itemStyle: { color }
  };
}

function pointSeries(name, grid, data, color, lineColor) {
  return {
    name, type: lineColor ? 'line' : 'scatter', xAxisIndex: grid, yAxisIndex: grid, data,
    symbol: 'circle', symbolSize: 8, showSymbol: true, clip: false, z: 5,
    lineStyle: { color: lineColor || color, width: 1.5 },
    itemStyle: { color, borderColor: '#333', borderWidth: 1 }
  };
}

const fsC9Series = lineSeries('FS(t)C9', 2, fsC9, '#000', 1.5);
fsC9Series.markLine = {
  silent: true, symbol: 'none', label: { show: false },
  lineStyle: { color: '#000', width: 1.5, type: 'solid' },
  data: [{ yAxis: 1 }]
};

const rnetData = rnetPeaks.concat(rnetSmall).sort((a, b) => a[0] - b[0]);

const series = [
  {
    name: 'event', type: 'scatter', xAxisIndex: 0, yAxisIndex: 0, silent: true,
    data: eventsMajor.map(m => [m, 0.56]), symbol: 'triangle', symbolRotate: 180, symbolSize: [31, 27],
    itemStyle: { color: '#ff0000' }
  },
  {
    name: 'event minor', type: 'scatter', xAxisIndex: 0, yAxisIndex: 0, silent: true,
    data: eventsMinor.map(m => [m, 0.56]), symbol: 'triangle', symbolRotate: 180, symbolSize: [31, 27],
    itemStyle: { color: '#ffcccc', borderColor: '#ff3030', borderWidth: 1 }
  },
  lineSeries('CumR180d', 1, cumR180, '#ffb0b0', 1.5),
  lineSeries('CumRnet,180d', 1, cumRnet180, '#ff0000', 1.5),
  lineSeries('FS(t)C', 2, fsC, '#888888', 1.5),
  fsC9Series,
  lineSeries('h(t)36m', 4, h36, '#1fc3f5', 1.5),
  lineSeries('h(t)15m', 4, h15, '#1414e0', 1.5),
  pointSeries('Field data P7 15m b.g.l.', 4, field15, '#0808e0'),
  pointSeries('Field data P7 36m b.g.l.', 4, field36, '#5cc6ee'),
  pointSeries('Displacement rate GPS_S2', 3, dispGPS, '#f26a1b', '#f07a30'),
  pointSeries('Displacement rate SB_I12', 3, dispSB, '#2ee62e', '#3ccc3c'),
  {
    name: 'Rnet', type: 'bar', xAxisIndex: 5, yAxisIndex: 5, data: rnetData,
    barWidth: 1.6, itemStyle: { color: '#000' },
    markLine: {
      silent: true, symbol: 'none', label: { show: false },
      lineStyle: { color: '#000', width: 1.5, type: 'solid' },
      data: [{ yAxis: 0 }]
    }
  }
];

// legend texts with subscripts
const legendText = {
  'Field data P7 15m b.g.l.': '{n|Field  data  P7 15m b.g.l.}',
  'Field data P7 36m b.g.l.': '{n|Field  data  P7 36m b.g.l.}',
  'h(t)15m': '{n|h(t)}{s|15m}',
  'h(t)36m': '{n|h(t)}{s|36m}',
  'FS(t)C9': '{n|FS(t)}{s|C9}',
  'FS(t)C': '{n|FS(t)}{s|C}',
  'Displacement rate GPS_S2': '{n|Displacement rate GPS_S2}',
  'Displacement rate SB_I12': '{n|Displacement rate SB_I12}',
  'CumR180d': '{n|CumR}{s|180d}',
  'CumRnet,180d': '{n|CumR}{s|net,180d}',
  'Rnet': '{n|R}{s|net}'
};
const rich = {
  n: { fontFamily: FONT, fontSize: 20, color: '#000', verticalAlign: 'top', lineHeight: 22 },
  s: { fontFamily: FONT, fontSize: 17, color: '#000', verticalAlign: 'bottom', lineHeight: 17, padding: [10, 0, 0, 0] }
};
const dots = 'path://M0,4a4,4 0 1,0 8,0a4,4 0 1,0 -8,0M11,4a4,4 0 1,0 8,0a4,4 0 1,0 -8,0M22,4a4,4 0 1,0 8,0a4,4 0 1,0 -8,0';

function legendItem(name, left, top, icon, w, h) {
  return {
    data: [name], left, top, icon, itemWidth: w, itemHeight: h, padding: 0, selectedMode: false,
    formatter: n => legendText[n], textStyle: { rich }
  };
}

const legends = [
  legendItem('Field data P7 15m b.g.l.', 217, 731, dots, 26, 7),
  legendItem('h(t)15m', 456, 731, 'rect', 20, 2),
  legendItem('FS(t)C9', 577, 731, 'rect', 19, 2),
  legendItem('Displacement rate GPS_S2', 702, 731, dots, 26, 7),
  legendItem('CumR180d', 998, 731, 'rect', 20, 2),
  legendItem('Field data P7 36m b.g.l.', 217, 756, dots, 26, 7),
  legendItem('h(t)36m', 456, 756, 'rect', 20, 2),
  legendItem('FS(t)C', 577, 756, 'rect', 19, 2),
  legendItem('Displacement rate SB_I12', 702, 756, dots, 26, 7),
  legendItem('CumRnet,180d', 998, 756, 'rect', 20, 2),
  legendItem('Rnet', 217, 777, 'rect', 26, 8)
];

chart.setOption({
  animation: false,
  backgroundColor: '#fff',
  textStyle: { fontFamily: FONT },
  grid: grids,
  xAxis: xAxes,
  yAxis: yAxes,
  legend: legends,
  series
});
</script>
</body>
</html>
